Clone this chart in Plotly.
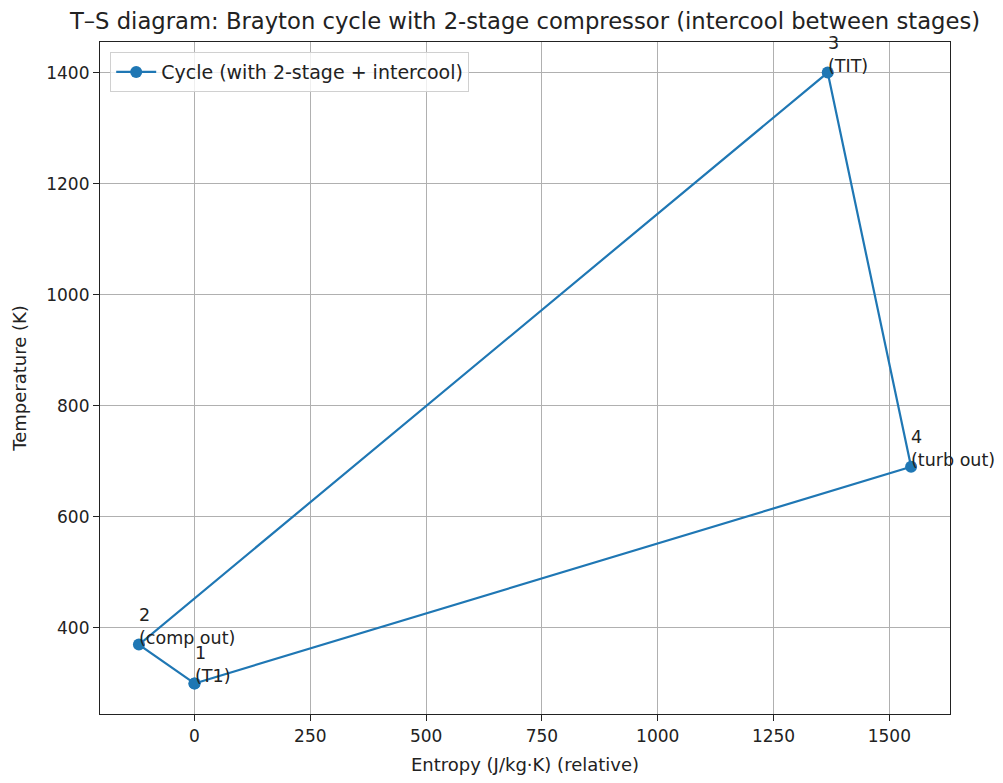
import plotly.graph_objects as go

# State points (entropy relative, temperature)
labels = ["1\n(T1)", "2\n(comp out)", "3\n(TIT)", "4\n(turb out)"]
entropy = [0, -120, 1367, 1547]
temperature = [300, 370, 1400, 690]

x_ticks = [0, 250, 500, 750, 1000, 1250, 1500]
y_ticks = [400, 600, 800, 1000, 1200, 1400]

cyc_x = entropy + [entropy[0]]
cyc_y = temperature + [temperature[0]]

color = "#1f77b4"
font = "DejaVu Sans"

fig = go.Figure()
fig.add_trace(go.Scatter(
    x=cyc_x, y=cyc_y, mode="lines+markers",
    line=dict(color=color, width=2.2),
    marker=dict(color=color, size=12),
    name="Cycle (with 2-stage + intercool)",
))

for lab, xv, yv in zip(labels, entropy, temperature):
    fig.add_annotation(
        x=xv, y=yv, text=lab.replace("\n", "<br>"), showarrow=False,
        xanchor="left", yanchor="bottom", align="left",
        xshift=-2, yshift=-5,
        font=dict(family=font, size=17.5, color="#222222"),
    )

axis_common = dict(
    showgrid=True, gridcolor="#b0b0b0", gridwidth=1,
    showline=True, linecolor="#222222", linewidth=1.2, mirror=True,
    ticks="outside", ticklen=6, tickcolor="#222222",
    zeroline=False,
    tickfont=dict(family=font, size=17, color="#222222"),
)

fig.update_layout(
    width=1003, height=783,
    margin=dict(l=100, r=53, t=42, b=67),
    paper_bgcolor="white", plot_bgcolor="white",
    title=dict(
        text="T–S diagram: Brayton cycle with 2-stage compressor (intercool between stages)",
        xref="paper", x=0.5, xanchor="center", y=0.973, yanchor="middle",
        font=dict(family=font, size=22.7, color="#222222"),
    ),
    xaxis=dict(range=[-204, 1631], tickvals=x_ticks,
               title=dict(text="Entropy (J/kg·K) (relative)", font=dict(family=font, size=18, color="#222222"), standoff=13),
               **axis_common),
    yaxis=dict(range=[245, 1455], tickvals=y_ticks,
               title=dict(text="Temperature (K)", font=dict(family=font, size=18, color="#222222"), standoff=14),
               **axis_common),
    legend=dict(
        x=0.012, y=0.985, xanchor="left", yanchor="top",
        bgcolor="rgba(255,255,255,0.8)", bordercolor="#d0d0d0", borderwidth=1,
        itemwidth=40,
        font=dict(family=font, size=19, color="#222222"),
    ),
    showlegend=True,
)

fig.write_html("out.html")
